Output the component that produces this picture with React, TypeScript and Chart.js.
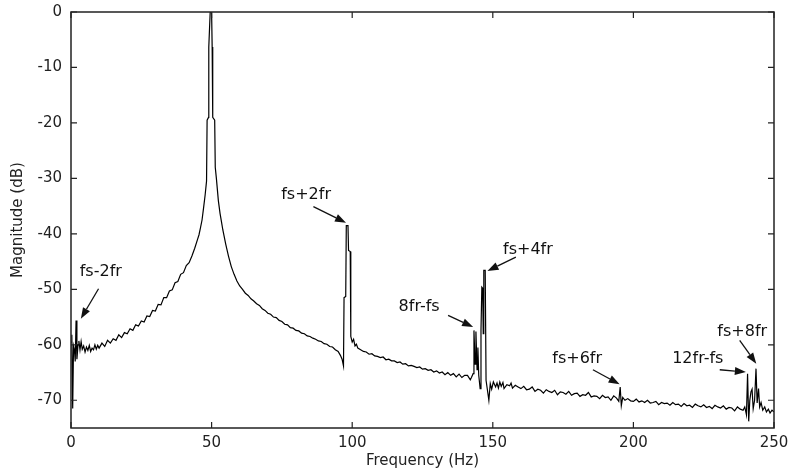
import React, { useEffect, useRef } from "react";
import { Chart, registerables } from "chart.js";

Chart.register(...registerables);

// Frequency bins (Hz)
const freqHz: number[] = [
  0, 0.3, 0.6, 0.9, 1.2, 1.5, 1.8, 2.1, 2.5, 2.8, 3.2, 3.6, 4.0,
  4.5, 5, 5.5, 6, 6.5, 7, 7.5, 8, 8.5, 9, 9.5, 10, 11, 12, 13, 14, 15, 16, 17, 18, 19, 20,
  21, 22, 23, 24, 25, 26, 27, 28, 29, 30, 31, 32, 33, 34, 35, 36, 37, 38, 39, 40,
  41, 42, 43, 44, 45, 45.5, 46, 46.6, 47.1, 47.7, 48.2, 48.4, 48.9, 49.0, 49.5, 50.0,
  50.2, 50.4, 51.1, 51.3, 51.7, 52.4, 53.0, 53.5, 54.0, 55, 56, 57, 58, 59, 60,
  61, 62, 63, 64, 65, 66, 67, 68, 69, 70, 71, 72, 73, 74, 75, 76, 77, 78, 79, 80,
  81, 82, 83, 84, 85, 86, 87, 88, 89, 90, 91, 92, 93, 94, 95, 95.8, 96.4, 96.9,
  97.1, 97.7, 97.9, 98.5, 98.7, 99.3, 99.5, 100.0, 100.5, 101.0, 101.5,
  102, 103, 104, 105, 106, 107, 108, 109, 110, 111, 112, 113, 114, 115, 116, 117, 118, 119, 120,
  121, 122, 123, 124, 125, 126, 127, 128, 129, 130, 131, 132, 133, 134, 135, 136, 137, 138, 139, 140,
  141, 142, 142.4, 143.0, 143.3, 143.7, 144.0, 144.4, 144.7, 145.0, 145.5, 145.8, 146.1, 146.4,
  146.6, 146.8, 147.3, 147.6, 148.1, 148.6, 149.1, 149.6, 150.2,
  151, 151.5, 152, 152.5, 153, 153.6, 154, 155, 156, 156.5, 157, 158, 159, 160,
  161, 162, 163, 164, 165, 166, 167, 168, 169, 170, 171, 172, 173, 174, 175, 176, 177, 178, 179, 180,
  181, 182, 183, 184, 185, 186, 187, 188, 189, 190, 191, 192, 193, 194, 194.8, 195.3, 195.7, 196.2,
  197, 198, 199, 200, 201, 202, 203, 204, 205, 206, 207, 208, 209, 210,
  211, 212, 213, 214, 215, 216, 217, 218, 219, 220, 221, 222, 223, 224, 225, 226, 227, 228, 229, 230,
  231, 232, 233, 234, 235, 236, 237, 238, 239, 239.6, 240.2, 240.6, 241.0, 241.4, 241.8, 242.2,
  242.6, 243.1, 243.6, 244.0, 244.5, 244.9, 245.4, 246, 246.7, 247.3, 248, 248.6, 249.3, 250,
];

// Magnitude (dB)
const magnitudeDb: number[] = [
  -59.5, -58.2, -71.5, -60.2, -60.8, -63.0, -55.6, -62.6, -60.0, -59.3, -60.9, -59.4, -60.8,
  -60.2, -61.3, -60.4, -61.0, -60.1, -61.2, -60.6, -60.9, -60.0, -60.8, -60.1, -60.6, -59.7, -60.3, -59.2, -59.7, -58.9, -59.2, -58.2, -58.7, -57.8, -58.0,
  -57.1, -57.4, -56.4, -56.6, -55.7, -55.9, -54.8, -54.9, -53.8, -53.9, -52.7, -52.8, -51.5, -51.5, -50.3, -50.1, -48.8, -48.6, -47.3, -47.0,
  -45.7, -45.2, -44.0, -42.6, -41.0, -40.2, -39.0, -37.5, -35.5, -33.0, -30.5, -19.5, -19.0, -6.3, 0, 0,
  -6.3, -19.0, -19.5, -28.0, -30.0, -34.0, -36.3, -37.8, -39.3, -41.8, -44.0, -45.9, -47.3, -48.5, -49.4,
  -50.0, -50.7, -51.1, -51.7, -52.1, -52.6, -52.9, -53.5, -53.8, -54.3, -54.5, -55.0, -55.1, -55.6, -55.8, -56.3, -56.4, -56.9, -57.0, -57.4,
  -57.5, -57.9, -58.0, -58.4, -58.5, -58.8, -59.0, -59.3, -59.4, -59.8, -59.9, -60.3, -60.4, -60.9, -61.2, -61.9, -62.6, -63.8,
  -51.5, -51.3, -38.5, -38.5, -43.0, -43.2, -58.5, -59.5, -59.0, -60.2, -59.9,
  -60.6, -60.9, -61.2, -61.3, -61.7, -61.6, -62.0, -62.1, -62.3, -62.2, -62.7, -62.6, -62.9, -62.9, -63.2, -63.1, -63.5, -63.4, -63.8,
  -63.7, -63.9, -64.1, -64.0, -64.4, -64.3, -64.6, -64.5, -64.9, -64.7, -65.1, -64.9, -65.4, -65.0, -65.5, -65.2, -65.8, -65.3, -65.9, -65.5,
  -65.5, -66.3, -65.9, -65.2, -57.4, -63.5, -57.6, -64.5, -60.5, -65.5, -67.9, -57.4, -49.6, -49.8,
  -58.0, -46.6, -46.6, -66.4, -68.2, -70.0, -67.0, -68.0, -66.7,
  -67.6, -66.9, -67.8, -66.7, -67.5, -66.8, -67.9, -67.2, -67.4, -66.9, -67.8, -67.3, -67.6, -67.9,
  -67.5, -68.1, -68.0, -67.6, -68.4, -68.0, -68.2, -68.7, -68.1, -68.4, -68.6, -68.2, -69.0, -68.5, -68.6, -68.9, -68.4, -69.1, -68.8, -68.7,
  -69.3, -69.0, -69.1, -68.6, -69.4, -69.2, -69.3, -69.7, -69.1, -69.5, -69.4, -70.0, -69.2, -69.6, -70.2, -67.6, -71.0, -69.5,
  -70.0, -69.7, -70.1, -70.2, -69.8, -70.3, -70.1, -70.4, -70.0, -70.5, -70.4, -70.2, -70.8, -70.4,
  -70.6, -70.5, -70.9, -70.4, -70.8, -70.7, -71.1, -70.6, -71.0, -70.9, -71.3, -70.7, -71.0, -71.2, -70.8, -71.3, -71.1, -71.5, -70.9, -71.2,
  -71.4, -71.0, -71.6, -71.3, -71.4, -71.9, -71.2, -71.6, -71.8, -71.2, -72.6, -65.2, -73.8, -70.0, -68.5, -68.0,
  -71.5, -70.0, -64.3, -70.5, -67.9, -71.2, -70.4, -71.8, -71.2, -72.1, -71.6, -72.3, -71.8, -72.1,
];

const xTickValues: number[] = [0, 50, 100, 150, 200, 250];
const yTickValues: number[] = [0, -10, -20, -30, -40, -50, -60, -70];

// Annotation labels and their anchors (in data units)
const annoLabels: string[] = ["fs-2fr", "fs+2fr", "8fr-fs", "fs+4fr", "fs+6fr", "12fr-fs", "fs+8fr"];
const annoTextHz: number[] = [10.6, 83.6, 123.8, 162.5, 180.0, 222.9, 238.7];
const annoTextDb: number[] = [-46.9, -32.9, -53.1, -42.8, -62.6, -62.6, -57.6];
const arrowFromHz: number[] = [9.8, 86.2, 134.1, 158.2, 185.6, 230.7, 237.8];
const arrowFromDb: number[] = [-49.9, -35.1, -54.7, -44.2, -64.5, -64.5, -59.2];
const arrowToHz: number[] = [3.5, 97.8, 143.0, 148.1, 195.1, 240.0, 243.7];
const arrowToDb: number[] = [-55.3, -38.0, -56.8, -46.7, -67.1, -64.9, -63.4];

const FONT = '"DejaVu Sans", "Liberation Sans", Arial, sans-serif';

const framePlugin = {
  id: "frameAndNotes",
  afterDatasetsDraw(chart: any) {
    const { ctx, chartArea: a, scales } = chart;
    const xs = scales.x;
    const ys = scales.y;
    ctx.save();
    ctx.strokeStyle = "#222";
    ctx.lineWidth = 1.5;
    ctx.strokeRect(a.left, a.top, a.right - a.left, a.bottom - a.top);
    ctx.lineWidth = 1.2;
    ctx.beginPath();
    const tl = 6;
    for (const v of xTickValues) {
      const px = xs.getPixelForValue(v);
      ctx.moveTo(px, a.bottom);
      ctx.lineTo(px, a.bottom - tl);
      ctx.moveTo(px, a.top);
      ctx.lineTo(px, a.top + tl);
    }
    for (const v of yTickValues) {
      const py = ys.getPixelForValue(v);
      ctx.moveTo(a.left, py);
      ctx.lineTo(a.left + tl, py);
      ctx.moveTo(a.right, py);
      ctx.lineTo(a.right - tl, py);
    }
    ctx.stroke();

    // annotations
    ctx.fillStyle = "#111";
    ctx.strokeStyle = "#111";
    ctx.font = `16px ${FONT}`;
    ctx.textAlign = "center";
    ctx.textBaseline = "middle";
    for (let i = 0; i < annoLabels.length; i++) {
      const tx = xs.getPixelForValue(annoTextHz[i]);
      const ty = ys.getPixelForValue(annoTextDb[i]);
      ctx.fillText(annoLabels[i], tx, ty);
      const x0 = xs.getPixelForValue(arrowFromHz[i]);
      const y0 = ys.getPixelForValue(arrowFromDb[i]);
      const x1 = xs.getPixelForValue(arrowToHz[i]);
      const y1 = ys.getPixelForValue(arrowToDb[i]);
      const ang = Math.atan2(y1 - y0, x1 - x0);
      const hl = 11;
      const hw = 4;
      const bx = x1 - hl * Math.cos(ang);
      const by = y1 - hl * Math.sin(ang);
      ctx.lineWidth = 1.3;
      ctx.beginPath();
      ctx.moveTo(x0, y0);
      ctx.lineTo(bx, by);
      ctx.stroke();
      ctx.beginPath();
      ctx.moveTo(x1, y1);
      ctx.lineTo(bx + hw * Math.sin(ang), by - hw * Math.cos(ang));
      ctx.lineTo(bx - hw * Math.sin(ang), by + hw * Math.cos(ang));
      ctx.closePath();
      ctx.fill();
    }
    ctx.restore();
  },
};

export default function App() {
  const canvasRef = useRef<HTMLCanvasElement | null>(null);

  useEffect(() => {
    if (!canvasRef.current) return;
    const n = Math.min(freqHz.length, magnitudeDb.length);
    const points = freqHz.slice(0, n).map((f, i) => ({ x: f, y: magnitudeDb[i] }));
    const chart = new Chart(canvasRef.current, {
      type: "line",
      data: {
        datasets: [
          {
            data: points,
            borderColor: "#000",
            borderWidth: 1.2,
            pointRadius: 0,
            tension: 0,
            fill: false,
          },
        ],
      },
      options: {
        animation: false,
        responsive: true,
        maintainAspectRatio: false,
        parsing: false as any,
        layout: { padding: { top: 12, right: 16, left: 0, bottom: 0 } },
        plugins: {
          legend: { display: false },
          tooltip: { enabled: false },
        },
        scales: {
          x: {
            type: "linear",
            min: 0,
            max: 250,
            grid: { display: false, drawTicks: false },
            border: { display: false },
            afterBuildTicks: (s: any) => {
              s.ticks = xTickValues.map((v) => ({ value: v }));
            },
            afterFit: (s: any) => {
              s.height = 46;
              s.paddingLeft = 0;
              s.paddingRight = 0;
            },
            ticks: {
              color: "#222",
              font: { family: FONT, size: 15 },
              padding: 6,
              maxRotation: 0,
            },
            title: {
              display: true,
              text: "Frequency (Hz)",
              color: "#222",
              font: { family: FONT, size: 15 },
              padding: { top: 0, bottom: 4 },
            },
          },
          y: {
            type: "linear",
            min: -75,
            max: 0,
            grid: { display: false, drawTicks: false },
            border: { display: false },
            afterBuildTicks: (s: any) => {
              s.ticks = yTickValues.map((v) => ({ value: v }));
            },
            afterFit: (s: any) => {
              s.width = 71;
              s.paddingTop = 0;
              s.paddingBottom = 0;
            },
            ticks: {
              color: "#222",
              font: { family: FONT, size: 15 },
              padding: 9,
            },
            title: {
              display: true,
              text: "Magnitude (dB)",
              color: "#222",
              font: { family: FONT, size: 15 },
              padding: { top: 9, bottom: 0 },
            },
          },
        },
      },
      plugins: [framePlugin],
    });
    return () => chart.destroy();
  }, []);

  return (
    <div style={{ position: "fixed", left: 0, top: 0, width: 790, height: 474, background: "#fff" }}>
      <canvas ref={canvasRef} />
    </div>
  );
}
